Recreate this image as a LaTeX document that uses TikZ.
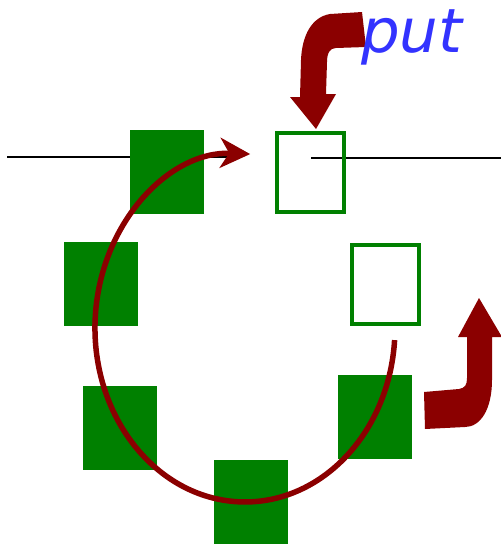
\documentclass[tikz,border=0pt]{standalone}
\usepackage{fontspec}
\usetikzlibrary{arrows.meta}
\newfontfamily\putfont{DejaVu Sans}
\definecolor{slotgreen}{RGB}{0,128,0}
\definecolor{arrowred}{RGB}{139,0,0}
\definecolor{putblue}{RGB}{51,51,255}
\tikzset{
  fullslot/.style={fill=slotgreen,minimum width=74pt,minimum height=84pt,inner sep=0pt},
  freeslot/.style={draw=slotgreen,line width=4pt,minimum width=67pt,minimum height=79pt,inner sep=0pt},
  bigarrow/.style={fill=arrowred}
}
\begin{document}
\begin{tikzpicture}[x=1pt,y=-1pt]
\useasboundingbox (0,0) rectangle (501,544);
% the track
\coordinate (trackL) at (7,157);
\coordinate (trackM) at (232,157);
\coordinate (trackN) at (311,158);
\coordinate (trackR) at (501,158);
\draw[line width=2pt] (trackL)--(trackM);
\draw[line width=2pt] (trackN)--(trackR);
% occupied slots
\foreach \name/\pos in {q1/{167,172}, q2/{101,284}, q3/{120,428}, q4/{251,502}, q5/{375,417}}
{
    \node[fullslot] (\name) at (\pos) {};
}
% free slots
\node[freeslot] (f1) at (310.5,172.5) {};
\node[freeslot] (f2) at (385,284) {};
% rotation
\coordinate (ringstart) at (394.6,340.1);
\draw[arrowred,line width=5.5pt,-{Stealth[length=30pt,width=30pt,inset=9pt]}]
    (ringstart) arc[start angle=4,end angle=272,x radius=150,y radius=174];
% put arrow
\fill[bigarrow] (362,12) -- (330,14) .. controls (312,17) and (302,35) .. (301,60)
    -- (300,97) -- (290,97) -- (316,129) -- (336,94) -- (326,94)
    -- (327,62) .. controls (327,53) and (330,48) .. (336,48) -- (366,47) -- cycle;
\node[text=putblue,font=\putfont\itshape\fontsize{61}{64}\selectfont,anchor=base west,inner sep=0pt] (put) at (361,52) {put};
% turn arrow
\fill[bigarrow] (424,392) -- (459,389) .. controls (465,388) and (467,385) .. (467,378)
    -- (467,337) -- (458,337) -- (479,298) -- (502,337) -- (492,337)
    -- (492,380) .. controls (492,410) and (480,427) .. (465,427) -- (425,429) -- cycle;
\end{tikzpicture}
\end{document}
